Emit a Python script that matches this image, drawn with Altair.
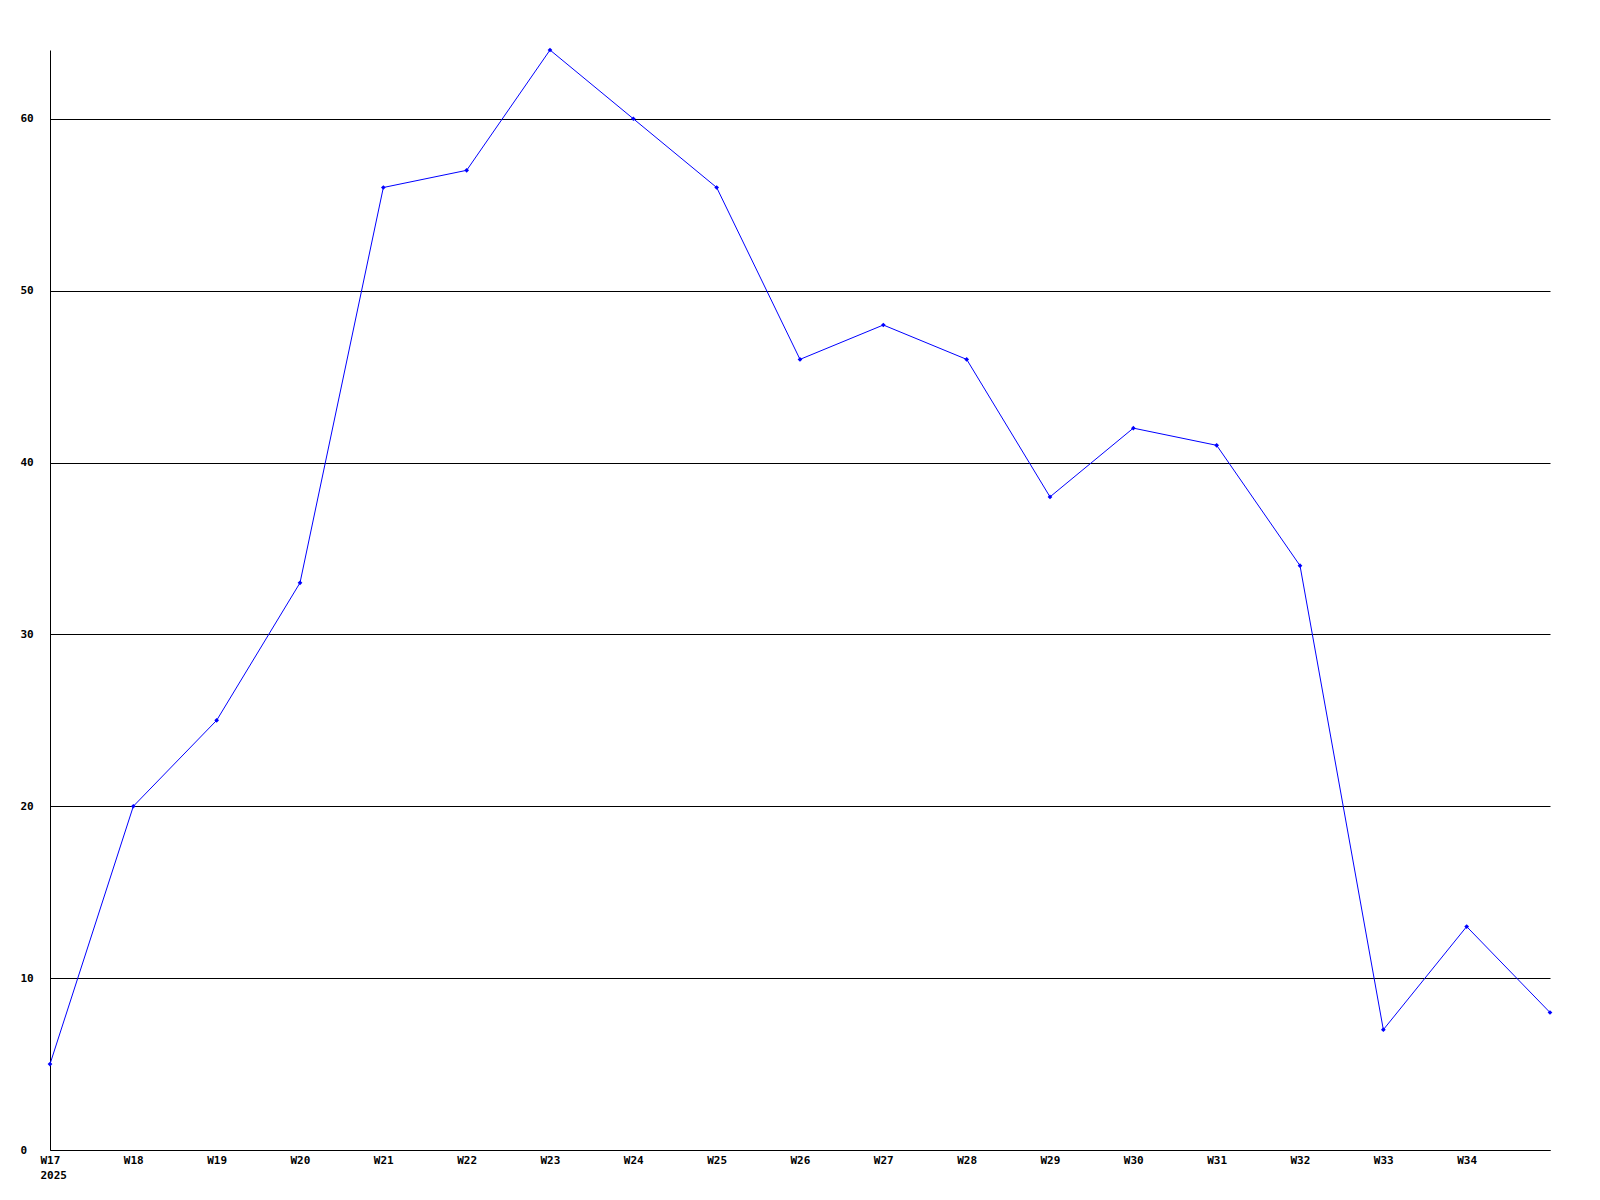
import altair as alt
import pandas as pd

weeks = ["W17", "W18", "W19", "W20", "W21", "W22", "W23", "W24", "W25",
         "W26", "W27", "W28", "W29", "W30", "W31", "W32", "W33", "W34", "W35"]
values = [5, 20, 25, 33, 56, 57, 64, 60, 56, 46, 48, 46, 38, 42, 41, 34, 7, 13, 8]
tick_weeks = weeks[:-1]
y_ticks = [0, 10, 20, 30, 40, 50, 60]

df = pd.DataFrame({"week": weeks, "value": values})

FONT = "DejaVu Sans Mono"

x = alt.X("week:O", sort=weeks,
          scale=alt.Scale(type="point", padding=0, domain=weeks),
          axis=alt.Axis(values=tick_weeks, labelAngle=0, title=None, ticks=False,
                        labelFont=FONT, labelFontWeight="bold", labelFontSize=11,
                        labelColor="black", labelPadding=4, labelLineHeight=15,
                        labelExpr="datum.value == 'W17' ? ['W17', '2025'] : datum.label",
                        domainColor="black", domainWidth=1, grid=False,
                        labelOverlap=False, labelAlign="left", labelOffset=-10,
                        labelBaseline="top"))
y = alt.Y("value:Q",
          scale=alt.Scale(domain=[0, 64], nice=False, zero=True),
          axis=alt.Axis(values=y_ticks, title=None, ticks=False, tickSize=0,
                        labelFont=FONT, labelFontWeight="bold", labelFontSize=11,
                        labelColor="black", labelAlign="left", labelPadding=30,
                        domainColor="black", domainWidth=1,
                        grid=True, gridColor="black", gridWidth=1, gridOpacity=1))

line = alt.Chart(df).mark_line(color="#0000ff", strokeWidth=1).encode(x=x, y=y)
pts = alt.Chart(df).mark_point(shape="diamond", filled=True, color="#0000ff",
                               size=22, opacity=1).encode(x=x, y=y)

chart = alt.layer(line, pts, view=alt.ViewBackground(stroke="transparent", strokeWidth=0)).properties(
    width=1500, height=1100,
    autosize=alt.AutoSizeParams(type="none"),
    padding={"left": 42, "top": 42, "right": 42, "bottom": 42},
).configure_view(strokeWidth=0, stroke="transparent").configure(background="white")

chart.save("out.html", embed_options={"renderer": "svg", "actions": False})
